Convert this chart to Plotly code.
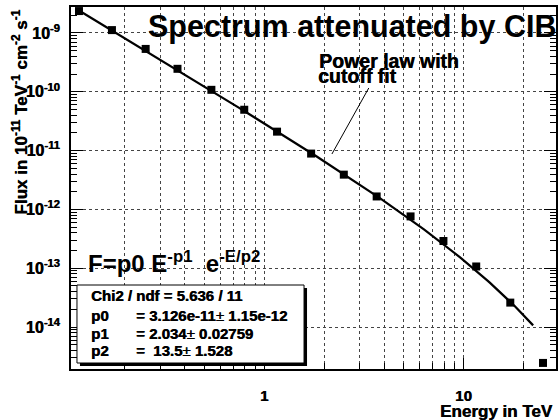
import numpy as np
import plotly.graph_objects as go

# ---- data ----
energy_tev = [0.1175, 0.172, 0.254, 0.367, 0.543, 0.794, 1.16, 1.72, 2.51, 3.67,
              5.43, 7.94, 11.6, 17.2, 25.1]
flux = [2.36e-9, 1.12e-9, 5.36e-10, 2.46e-10, 1.08e-10, 4.95e-11, 2.1e-11, 8.9e-12,
        3.9e-12, 1.66e-12, 7.6e-13, 2.9e-13, 1.07e-13, 2.6e-14, 2.45e-15]

# fit parameters shown in the stats box
p0, p1, p2 = 3.126e-11, 2.034, 13.5
fit_e_min, fit_e_max = 0.1175, 22.4

x_tick_vals = [1, 10]
x_tick_text = ["<b>1</b>", "<b>10</b>"]
x_minor_vals = [0.2, 0.3, 0.4, 0.5, 0.6, 0.7, 0.8, 0.9, 2, 3, 4, 5, 6, 7, 8, 9, 20]
y_exponents = [-14, -13, -12, -11, -10, -9]
PM = "</b>\u00b1<b>"
stats_rows = [
    ("Chi2 / ndf = 5.636 / 11", ""),
    ("p0", "= 3.126e-11" + PM + " 1.15e-12"),
    ("p1", "= 2.034" + PM + " 0.02759"),
    ("p2", "= &#160;13.5" + PM + " 1.528"),
]

FONT = "Liberation Sans, Arial, Helvetica, sans-serif"
HEAVY = "0.5px 0px 0px black"

# plot-area geometry in pixels
L, R, T, B = 71, 558, 7, 369
W, H = R - L, B - T


def px(x):
    return (x - L) / W


def py(y):
    return (B - y) / H


fit_e = np.logspace(np.log10(fit_e_min), np.log10(fit_e_max), 200)
fit_f = p0 * fit_e ** (-p1) * np.exp(-fit_e / p2)

fig = go.Figure()
fig.add_trace(go.Scatter(x=fit_e, y=fit_f, mode="lines",
                         line=dict(color="black", width=2.2), showlegend=False))
fig.add_trace(go.Scatter(x=energy_tev, y=flux, mode="markers",
                         marker=dict(symbol="square", size=8, color="black"),
                         showlegend=False))

y_tick_vals = [10.0 ** e for e in y_exponents]
y_tick_text = ["<b>10<sup>%d</sup></b>" % e for e in y_exponents]
y_minor_vals = [m * 10.0 ** e for e in range(-15, -8) for m in range(2, 10)]

grid = dict(showgrid=True, gridcolor="#444", griddash="dot", gridwidth=1)

fig.update_xaxes(type="log", range=[-0.97, 1.465],
                 tickvals=x_tick_vals, ticktext=x_tick_text,
                 ticks="inside", ticklen=11, tickwidth=1, tickcolor="black",
                 showline=True, linecolor="black", linewidth=2, mirror=True,
                 tickfont=dict(family=FONT, size=15, color="black", shadow=HEAVY),
                 ticklabelstandoff=12, zeroline=False,
                 minor=dict(tickvals=x_minor_vals, ticks="inside", ticklen=6,
                            tickcolor="black", showgrid=True, gridcolor="#444",
                            griddash="dot", gridwidth=1),
                 **grid)
fig.update_yaxes(type="log", range=[-14.714, -8.558],
                 tickvals=y_tick_vals, ticktext=y_tick_text,
                 ticks="inside", ticklen=12, tickwidth=1, tickcolor="black",
                 showline=True, linecolor="black", linewidth=2, mirror="ticks",
                 tickfont=dict(family=FONT, size=16, color="black", shadow=HEAVY),
                 ticklabelstandoff=6, zeroline=False,
                 minor=dict(tickvals=y_minor_vals, ticks="inside", ticklen=6,
                            tickcolor="black", showgrid=False),
                 **grid)

shapes = [
    dict(type="rect", xref="paper", yref="paper", x0=px(80), x1=px(308),
         y0=py(366), y1=py(288), fillcolor="black", line=dict(width=0), layer="above"),
    dict(type="rect", xref="paper", yref="paper", x0=px(77), x1=px(305),
         y0=py(363), y1=py(285), fillcolor="white", line=dict(color="black", width=1),
         layer="above"),
    dict(type="line", xref="paper", yref="paper", x0=px(370), y0=py(88),
         x1=px(333), y1=py(154), line=dict(color="black", width=1)),
]

ann = []


def text(x, y, s, size, xanchor="left", yanchor="middle", angle=0, heavy=True):
    f = dict(family=FONT, size=size, color="black")
    if heavy:
        f["shadow"] = HEAVY
    ann.append(dict(x=px(x), y=py(y), xref="paper", yref="paper", text="<b>" + s + "</b>",
                    showarrow=False, xanchor=xanchor, yanchor=yanchor,
                    textangle=angle, font=f))


text(146, 26, "Spectrum attenuated by CIB", 30.5, heavy=False)
text(318, 61, "Power law with", 19.5)
text(317, 76, "cutoff fit", 19.5)
text(86, 262, "F=p0 E<sup>-p1</sup>&#160; e<sup>-E/p2</sup>", 24, heavy=False)
rows_y = [295, 315, 333, 350]
for (lab, val), yy in zip(stats_rows, rows_y):
    text(89, yy, lab, 15)
    if val:
        text(134, yy, val, 15)
text(19, 8, "Flux in 10<sup>-11</sup> TeV<sup>-1</sup> cm<sup>-2</sup> s<sup>-1</sup>",
     17, xanchor="center", yanchor="top", angle=-90)
text(557, 411, "Energy in TeV", 17, xanchor="right")

fig.update_layout(width=560, height=420,
                  margin=dict(l=L, r=560 - R, t=T, b=420 - B),
                  paper_bgcolor="white", plot_bgcolor="white",
                  shapes=shapes, annotations=ann, showlegend=False)

fig.write_html("out.html")
